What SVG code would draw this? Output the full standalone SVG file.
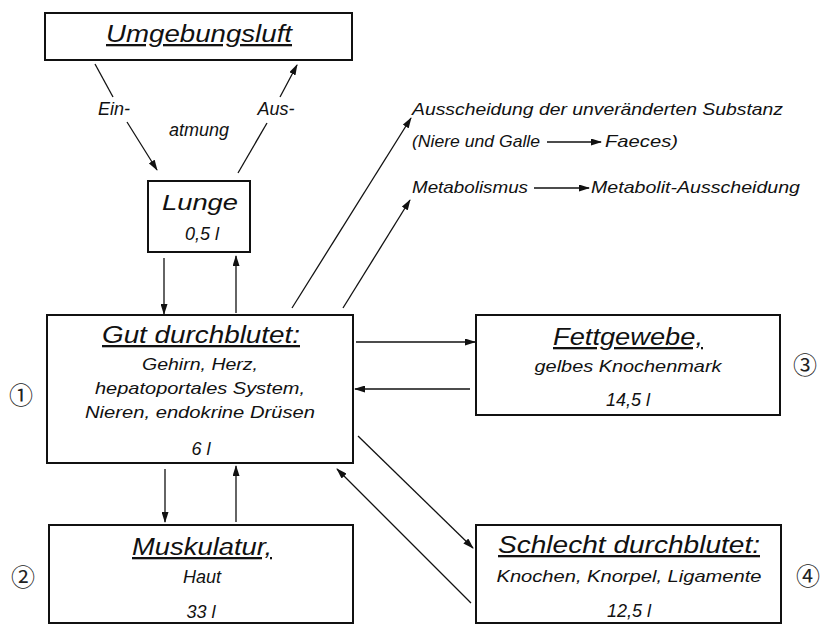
<svg xmlns="http://www.w3.org/2000/svg" width="820" height="626" viewBox="0 0 820 626">
<defs>
<marker id="ah" markerUnits="userSpaceOnUse" markerWidth="11" markerHeight="7" refX="10" refY="3.5" orient="auto">
<path d="M0,0 L11,3.5 L0,7 Z" fill="#111"/>
</marker>
<style>
.box{fill:#fff;stroke:#111;stroke-width:2}
.t{font-family:"Liberation Sans",Arial,sans-serif;font-style:italic;fill:#111;text-anchor:middle}
.ttl{font-size:23px;text-decoration:underline}
.b{font-size:17px}
.v{font-size:18px}
.r{font-family:"Liberation Sans",Arial,sans-serif;font-style:italic;fill:#111;font-size:17px}
.num{font-family:"Noto Sans CJK JP","DejaVu Sans",sans-serif;font-size:24px;fill:#222;text-anchor:middle}
.c{stroke:#111;stroke-width:1.3;fill:none}
.ca{stroke:#111;stroke-width:1.3;fill:none;marker-end:url(#ah)}
</style>
</defs>
<rect width="820" height="626" fill="#fff"/>
<g id="connectors">
<line class="c" x1="95" y1="64" x2="113" y2="97"/>
<line class="ca" x1="127" y1="122" x2="157" y2="170"/>
<line class="c" x1="238" y1="173" x2="267" y2="123"/>
<line class="ca" x1="280" y1="97" x2="297" y2="65"/>
<line class="ca" x1="164" y1="258" x2="164" y2="314"/>
<line class="ca" x1="236" y1="313" x2="236" y2="256"/>
<line class="ca" x1="292" y1="308" x2="411" y2="118"/>
<line class="ca" x1="343" y1="308" x2="410" y2="200"/>
<line class="ca" x1="356" y1="342" x2="475" y2="342"/>
<line class="ca" x1="470" y1="389" x2="355" y2="389"/>
<line class="ca" x1="165" y1="469" x2="165" y2="522"/>
<line class="ca" x1="236" y1="522" x2="236" y2="466"/>
<line class="ca" x1="358" y1="436" x2="473" y2="548"/>
<line class="ca" x1="471" y1="603" x2="337" y2="469"/>
<line class="ca" x1="547" y1="142" x2="601" y2="142"/>
<line class="ca" x1="534" y1="188" x2="589" y2="188"/>
</g>
<g id="umgebungsluft">
<rect class="box" x="45" y="13" width="307" height="47"/>
<text class="t ttl" x="199" y="42" textLength="186" lengthAdjust="spacingAndGlyphs">Umgebungsluft</text>
</g>
<g id="atmung-labels">
<text class="t v" x="114" y="115">Ein-</text>
<text class="t v" x="199" y="136">atmung</text>
<text class="t v" x="276" y="115">Aus-</text>
</g>
<g id="lunge">
<rect class="box" x="148" y="181" width="102" height="71"/>
<text class="t" x="200" y="210" font-size="22" textLength="76" lengthAdjust="spacingAndGlyphs">Lunge</text>
<text class="t v" x="202" y="240">0,5 l</text>
</g>
<g id="ausscheidung">
<text class="r" x="412" y="115" textLength="371" lengthAdjust="spacingAndGlyphs">Ausscheidung der unveränderten Substanz</text>
<text class="r" x="412" y="147" textLength="128" lengthAdjust="spacingAndGlyphs">(Niere und Galle</text>
<text class="r" x="605" y="147" textLength="73" lengthAdjust="spacingAndGlyphs">Faeces)</text>
</g>
<g id="metabolismus">
<text class="r" x="412" y="193" textLength="116" lengthAdjust="spacingAndGlyphs">Metabolismus</text>
<text class="r" x="591" y="193" textLength="209" lengthAdjust="spacingAndGlyphs">Metabolit-Ausscheidung</text>
</g>
<g id="gut">
<rect class="box" x="47" y="315" width="306" height="148"/>
<text class="t ttl" x="201" y="343" textLength="198" lengthAdjust="spacingAndGlyphs">Gut durchblutet:</text>
<text class="t b" x="200" y="370" textLength="116" lengthAdjust="spacingAndGlyphs">Gehirn, Herz,</text>
<text class="t b" x="200" y="394" textLength="210" lengthAdjust="spacingAndGlyphs">hepatoportales System,</text>
<text class="t b" x="200" y="418" textLength="230" lengthAdjust="spacingAndGlyphs">Nieren, endokrine Drüsen</text>
<text class="t v" x="201" y="455">6 l</text>
<text class="num" x="21" y="404">①</text>
</g>
<g id="fett">
<rect class="box" x="476" y="315" width="304" height="100"/>
<text class="t ttl" x="628" y="345" textLength="150" lengthAdjust="spacingAndGlyphs">Fettgewebe,</text>
<text class="t b" x="628" y="372" textLength="187" lengthAdjust="spacingAndGlyphs">gelbes Knochenmark</text>
<text class="t v" x="628" y="406">14,5 l</text>
<text class="num" x="805" y="374">③</text>
</g>
<g id="muskulatur">
<rect class="box" x="49" y="525" width="304" height="98"/>
<text class="t ttl" x="202" y="555" textLength="140" lengthAdjust="spacingAndGlyphs">Muskulatur,</text>
<text class="t v" x="202" y="583">Haut</text>
<text class="t v" x="201" y="618">33 l</text>
<text class="num" x="23" y="586">②</text>
</g>
<g id="schlecht">
<rect class="box" x="476" y="525" width="305" height="98"/>
<text class="t ttl" x="629" y="553" textLength="262" lengthAdjust="spacingAndGlyphs">Schlecht durchblutet:</text>
<text class="t b" x="629" y="582" textLength="265" lengthAdjust="spacingAndGlyphs">Knochen, Knorpel, Ligamente</text>
<text class="t v" x="629" y="617">12,5 l</text>
<text class="num" x="808" y="585">④</text>
</g>
</svg>
